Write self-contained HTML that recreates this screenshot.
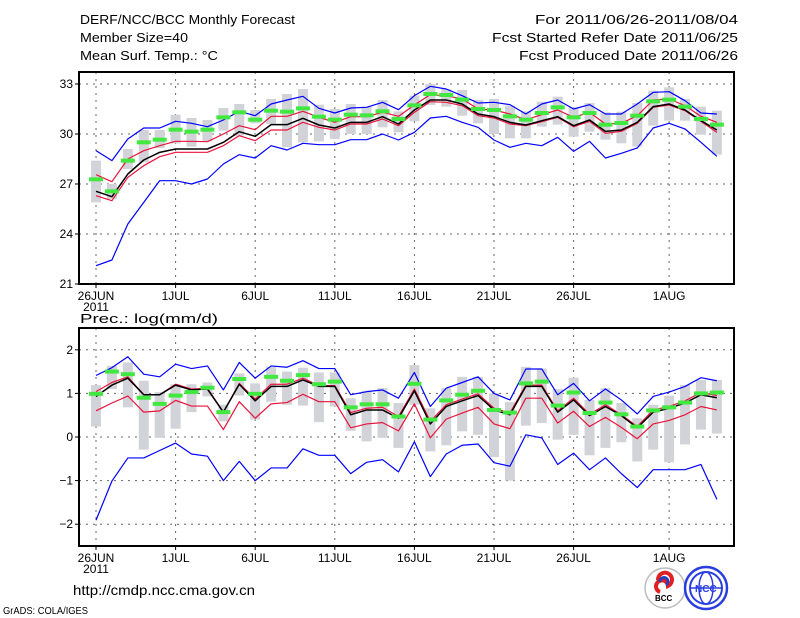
<!DOCTYPE html>
<html><head><meta charset="utf-8"><style>
html,body{margin:0;padding:0;background:#fff;}
svg{display:block;}
text{font-family:"Liberation Sans Narrow","Liberation Sans",sans-serif;fill:#000;}
</style></head><body>
<svg id="chart" width="800" height="618" viewBox="0 0 800 618" xmlns="http://www.w3.org/2000/svg">
<g font-size="13">
<text x="80" y="24" textLength="215" lengthAdjust="spacingAndGlyphs">DERF/NCC/BCC Monthly Forecast</text>
<text x="80" y="42" textLength="108" lengthAdjust="spacingAndGlyphs">Member Size=40</text>
<text x="80" y="60" textLength="138" lengthAdjust="spacingAndGlyphs">Mean Surf. Temp.: °C</text>
<text x="535" y="24" textLength="203" lengthAdjust="spacingAndGlyphs">For 2011/06/26-2011/08/04</text>
<text x="492" y="42" textLength="246" lengthAdjust="spacingAndGlyphs">Fcst Started Refer Date 2011/06/25</text>
<text x="519" y="60" textLength="219" lengthAdjust="spacingAndGlyphs">Fcst Produced Date 2011/06/26</text>
</g>
<g id="top"></g>
<g id="bot"></g>
<text x="80" y="323" font-size="13" textLength="138" lengthAdjust="spacingAndGlyphs">Prec.: log(mm/d)</text>
<text x="73" y="595" font-size="14" textLength="182" lengthAdjust="spacingAndGlyphs">http://cmdp.ncc.cma.gov.cn</text>
<text x="3" y="614" font-size="10" textLength="85" lengthAdjust="spacingAndGlyphs">GrADS: COLA/IGES</text>
<g>
<circle cx="665" cy="588" r="20" fill="#fff" stroke="#bbb" stroke-width="1.5"/>
<path d="M658 580 a7 7 0 1 1 10 6 a6 6 0 1 0 -8 6" fill="none" stroke="#e02020" stroke-width="4"/>
<path d="M660 582 a4 4 0 1 1 6 3" fill="none" stroke="#2040c0" stroke-width="3"/>
<text x="655" y="601" font-size="8" font-weight="bold">BCC</text>
</g>
<g>
<circle cx="706" cy="588" r="21" fill="#fff" stroke="#2a3ee0" stroke-width="2.5"/>
<ellipse cx="706" cy="588" rx="16" ry="16" fill="none" stroke="#2a3ee0" stroke-width="2"/>
<ellipse cx="706" cy="588" rx="7" ry="16" fill="none" stroke="#2a3ee0" stroke-width="1.5"/>
<line x1="690" y1="588" x2="722" y2="588" stroke="#2a3ee0" stroke-width="1.5"/>
<text x="695" y="592" font-size="10" font-weight="bold" fill="#2a3ee0" style="fill:#2a3ee0">NCC</text>
</g>
</svg>
<script>
// ---- data: temperature panel ----
const xLabels = ["26JUN","1JUL","6JUL","11JUL","16JUL","21JUL","26JUL","1AUG"];
const xLabelDays = [0,5,10,15,20,25,30,36];
const tTicks = [33,30,27,24,21];
const tMax = [29.0,28.4,29.7,30.36,30.36,30.76,30.64,30.44,30.84,31.36,31.1,31.8,32.04,32.26,31.54,31.26,31.56,31.6,31.9,31.46,32.3,32.86,32.7,32.3,31.86,31.9,31.76,31.2,31.8,32.04,31.5,31.76,31.2,31.2,31.8,32.5,32.54,32.0,31.26,31.2];
const tMin = [22.1,22.44,24.6,25.9,27.2,27.2,27.0,27.3,28.2,28.76,28.56,29.3,29.04,29.44,29.36,29.36,29.66,29.66,30.0,29.64,30.1,30.96,31.06,30.7,30.4,29.64,29.2,29.44,29.3,29.8,28.96,29.56,28.56,28.84,29.16,30.36,30.64,30.3,29.5,28.66];
const tMean = [26.56,26.24,27.6,28.44,28.9,29.1,29.1,29.1,29.5,30.14,29.86,30.56,30.56,30.94,30.54,30.36,30.7,30.7,31.04,30.6,31.44,32.04,32.04,31.8,31.2,31.04,30.7,30.54,30.8,31.04,30.5,30.84,30.16,30.24,30.7,31.64,31.8,31.44,30.8,30.24];
const tHi = [27.56,27.14,28.5,29.0,29.3,29.56,29.56,29.54,30.0,30.5,30.26,31.06,31.06,31.36,31.0,30.7,31.04,31.04,31.3,31.06,31.74,32.36,32.3,32.1,31.5,31.44,31.2,30.86,31.16,31.44,31.0,31.3,30.6,30.64,31.1,32.04,32.1,31.7,31.06,30.7];
const tLo = [26.3,26.0,27.4,28.1,28.64,28.9,28.9,28.9,29.3,29.9,29.6,30.24,30.24,30.7,30.4,30.24,30.6,30.6,30.9,30.5,31.3,31.94,31.9,31.7,31.1,30.96,30.6,30.5,30.74,31.0,30.44,30.76,30.04,30.16,30.64,31.6,31.74,31.4,30.76,30.1];
const tObs = [27.28,26.56,28.4,29.5,29.66,30.26,30.14,30.26,31.0,31.3,30.86,31.4,31.34,31.54,31.04,30.86,31.16,31.12,31.36,30.9,31.72,32.4,32.34,32.06,31.5,31.44,31.06,30.86,31.26,31.6,31.0,31.26,30.56,30.66,31.1,31.96,32.06,31.64,30.9,30.56];
const tBarTop = [28.4,27.0,29.1,30.24,30.24,31.16,30.96,30.84,31.56,31.8,31.44,32.1,32.4,32.7,31.76,31.5,31.8,31.64,32.04,31.36,32.3,33.0,32.7,32.64,32.04,32.1,31.7,31.36,31.94,32.24,31.6,31.86,31.3,31.34,31.86,32.6,32.8,32.1,31.64,31.4];
const tBarBot = [25.9,26.1,27.9,28.3,29.16,29.44,29.24,29.56,30.2,29.9,30.64,30.6,29.2,29.5,29.56,29.7,30.0,30.0,30.4,30.1,30.76,31.74,31.64,31.1,30.64,30.0,29.74,29.74,30.44,30.56,29.84,30.14,29.66,29.44,29.24,30.5,30.8,30.8,29.96,28.76];
// ---- data: precipitation panel ----
const pTicks = [2,1,0,-1,-2];
const pMax = [1.41,1.59,1.84,1.44,1.38,1.67,1.57,1.63,1.08,1.71,1.35,1.63,1.6,1.75,1.57,1.57,0.97,1.04,1.08,0.89,1.48,0.7,1.12,1.25,1.38,1.0,0.85,1.56,1.56,0.97,1.23,0.83,1.1,0.85,0.53,0.93,1.03,1.16,1.36,1.29];
const pMin = [-1.91,-1.01,-0.48,-0.48,-0.31,-0.14,-0.39,-0.44,-1.0,-0.56,-1.0,-0.71,-0.71,-0.27,-0.42,-0.42,-0.84,-0.58,-0.52,-0.8,-0.11,-0.91,-0.39,-0.19,-0.16,-0.59,-0.67,0.05,-0.02,-0.63,-0.37,-0.75,-0.48,-0.84,-1.16,-0.75,-0.75,-0.75,-0.63,-1.43];
const pMean = [0.93,1.19,1.35,0.97,0.97,1.19,1.08,1.1,0.57,1.21,0.83,1.16,1.16,1.31,1.16,1.16,0.51,0.62,0.62,0.43,1.06,0.3,0.7,0.83,0.95,0.62,0.51,1.16,1.16,0.57,0.85,0.49,0.7,0.49,0.21,0.57,0.66,0.78,0.97,0.9];
const pHi = [1.04,1.25,1.38,0.97,0.97,1.21,1.1,1.12,0.57,1.23,0.87,1.21,1.21,1.35,1.18,1.18,0.56,0.66,0.68,0.47,1.1,0.36,0.74,0.87,0.99,0.66,0.55,1.19,1.19,0.6,0.89,0.52,0.74,0.51,0.24,0.62,0.7,0.83,1.02,0.95];
const pLo = [0.6,0.78,0.94,0.57,0.6,0.84,0.71,0.71,0.17,0.81,0.43,0.76,0.79,0.98,0.81,0.81,0.21,0.3,0.33,0.14,0.76,-0.02,0.41,0.55,0.68,0.3,0.19,0.89,0.89,0.32,0.59,0.24,0.45,0.22,-0.04,0.3,0.38,0.51,0.7,0.62];
const pObs = [0.99,1.5,1.44,0.9,0.76,0.95,1.03,1.13,0.57,1.33,0.99,1.38,1.29,1.42,1.21,1.27,0.68,0.75,0.75,0.47,1.22,0.4,0.84,0.97,1.06,0.62,0.56,1.23,1.27,0.72,1.02,0.55,0.79,0.52,0.24,0.61,0.68,0.79,1.0,1.02];
const pBarTop = [1.19,1.63,1.71,1.29,1.03,1.21,1.21,1.25,0.74,1.46,1.23,1.61,1.5,1.59,1.48,1.48,0.89,1.06,1.12,0.78,1.65,0.66,1.12,1.38,1.38,1.0,0.8,1.61,1.57,1.1,1.36,0.85,1.12,0.78,0.43,0.74,0.95,1.19,1.31,1.31];
const pBarBot = [0.24,1.1,0.68,-0.29,-0.02,0.19,0.57,0.93,0.36,0.95,0.4,0.81,0.74,0.72,0.34,0.7,0.14,-0.1,-0.02,-0.25,0.74,-0.33,-0.19,0.13,0.05,-0.46,-1.0,0.26,0.32,-0.06,0.05,-0.42,-0.25,-0.12,-0.56,-0.29,-0.58,-0.17,0.17,0.08];

const NS = "http://www.w3.org/2000/svg";
const X0 = 96, DX = 15.92, LEFT = 79, RIGHT = 734;
function xs(i){ return X0 + DX*i; }
function mk(parent, tag, attrs){ const e=document.createElementNS(NS,tag); for(const k in attrs) e.setAttribute(k,attrs[k]); parent.appendChild(e); return e; }

function panel(g, top, bottom, vmin, vmax, ticks, d, prefix){
  const ys = v => bottom - (v - vmin)/(vmax - vmin)*(bottom - top);
  ticks.forEach(t=>{
    const l=mk(g,'line',{x1:LEFT,x2:RIGHT,y1:ys(t),y2:ys(t),stroke:'#666','stroke-width':1,'stroke-dasharray':'2,5'});
    
    
    const tk=mk(g,'line',{x1:LEFT-4,x2:LEFT,y1:ys(t),y2:ys(t),stroke:'#000','stroke-width':1});
    
    
    const tx=mk(g,'text',{x:LEFT-6,y:ys(t)+4,'text-anchor':'end','font-size':12});
    tx.textContent=String(t).replace('-','−');
    
    
  });
  xLabelDays.forEach((dd,k)=>{
    const x=xs(dd);
    const l=mk(g,'line',{x1:x,x2:x,y1:top,y2:bottom,stroke:'#666','stroke-width':1,'stroke-dasharray':'2,5'});
    
    
    const tk=mk(g,'line',{x1:x,x2:x,y1:bottom,y2:bottom+4,stroke:'#000','stroke-width':1});
    
    
    const tx=mk(g,'text',{x:x,y:bottom+16,'text-anchor':'middle','font-size':12});
    tx.textContent=xLabels[k];
    
    
  });
  const yr=mk(g,'text',{x:xs(0),y:bottom+27,'text-anchor':'middle','font-size':12});
  yr.textContent='2011';
  
  
  d.barTop.forEach((bt,i)=>{
    const y1=ys(bt), y2=ys(d.barBot[i]);
    const r=mk(g,'rect',{x:xs(i)-5,y:y1,width:10,height:Math.max(1,y2-y1),fill:'#d2d3d8'});
    
    
  });
  const line=(arr,col,w,name)=>{
    const p=mk(g,'polyline',{points:arr.map((v,i)=>xs(i)+','+ys(v)).join(' '),fill:'none',stroke:col,'stroke-width':w,'stroke-linejoin':'round'});
    
    
  };
  line(d.max,'#0000ff',1.2,prefix+'-max-line');
  line(d.min,'#0000ff',1.2,prefix+'-min-line');
  line(d.hi,'#e8143c',1.2,prefix+'-upper-red-line');
  line(d.lo,'#e8143c',1.2,prefix+'-lower-red-line');
  line(d.mean,'#000',1.5,prefix+'-mean-line');
  d.obs.forEach((v,i)=>{
    const r=mk(g,'rect',{x:xs(i)-7,y:ys(v)-2,width:14,height:4,fill:'#40e840'});
    
    
  });
  const box=mk(g,'rect',{x:LEFT,y:top,width:RIGHT-LEFT,height:bottom-top,fill:'none',stroke:'#000','stroke-width':2});
  
  
}
panel(document.getElementById('top'),72,284,21,33.72,tTicks,{max:tMax,min:tMin,mean:tMean,hi:tHi,lo:tLo,obs:tObs,barTop:tBarTop,barBot:tBarBot},'temp');
panel(document.getElementById('bot'),328,546,-2.5,2.5,pTicks,{max:pMax,min:pMin,mean:pMean,hi:pHi,lo:pLo,obs:pObs,barTop:pBarTop,barBot:pBarBot},'precip');
</script>
</body></html>
